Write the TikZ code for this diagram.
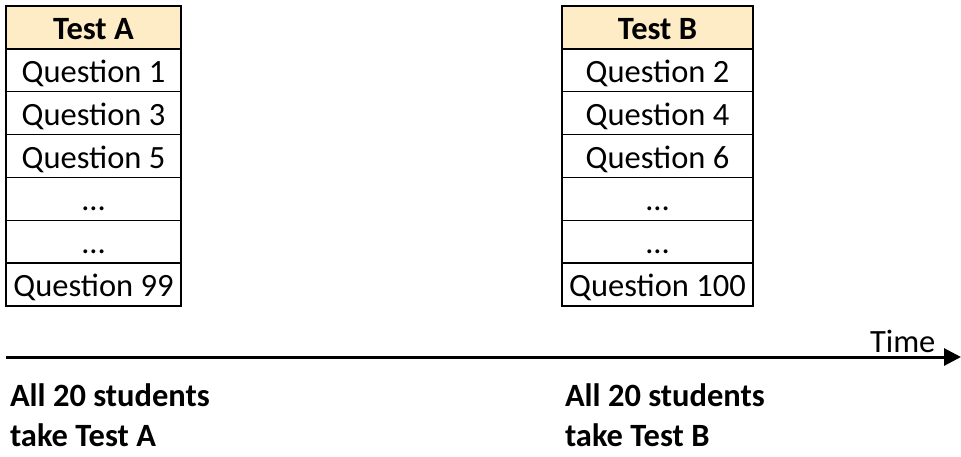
\documentclass[tikz,border=0pt]{standalone}
\usepackage{fontspec}
\setmainfont{Carlito}
\usetikzlibrary{arrows.meta}
\definecolor{headfill}{RGB}{253,236,197}
\tikzset{
  cell/.style={draw=black, line width=1.5pt, rectangle, inner sep=0pt, outer sep=0pt,
    minimum height=300/7*1pt, text height=24pt, text depth=0pt,
    font=\fontsize{32.5}{39}\selectfont},
  cellA/.style={cell, minimum width=175pt},
  cellB/.style={cell, minimum width=191pt},
  head/.style={fill=headfill, font=\fontsize{32.5}{39}\selectfont\bfseries},
  lbl/.style={inner sep=0pt, outer sep=0pt, anchor=base west, font=\fontsize{32.5}{39}\selectfont},
  blbl/.style={lbl, font=\fontsize{32.5}{39}\selectfont\bfseries},
}
\begin{document}
\begin{tikzpicture}[x=1pt,y=-1pt]
\useasboundingbox (0,0) rectangle (961,456);
\def\rh{42.857}
% Table A
\node[cellA,head] (a0) at (93.5,{6+0.5*\rh}) {Test A};
\node[cellA] (a1) at (93.5,{6+1.5*\rh}) {Question 1};
\node[cellA] (a2) at (93.5,{6+2.5*\rh}) {Question 3};
\node[cellA] (a3) at (93.5,{6+3.5*\rh}) {Question 5};
\node[cellA] (a4) at (93.5,{6+4.5*\rh}) {…};
\node[cellA] (a5) at (93.5,{6+5.5*\rh}) {…};
\node[cellA] (a6) at (93.5,{6+6.5*\rh}) {Question 99};
% Table B
\node[cellB,head] (b0) at (657.5,{6+0.5*\rh}) {Test B};
\node[cellB] (b1) at (657.5,{6+1.5*\rh}) {Question 2};
\node[cellB] (b2) at (657.5,{6+2.5*\rh}) {Question 4};
\node[cellB] (b3) at (657.5,{6+3.5*\rh}) {Question 6};
\node[cellB] (b4) at (657.5,{6+4.5*\rh}) {…};
\node[cellB] (b5) at (657.5,{6+5.5*\rh}) {…};
\node[cellB] (b6) at (657.5,{6+6.5*\rh}) {Question 100};
% Time axis
\coordinate (t0) at (6,357);
\coordinate (t1) at (961,357);
\draw[line width=3pt, -{Triangle[length=17pt,width=17pt]}] (t0) -- (t1);
\node[lbl] (time) at (870,352) {Time};
% Bottom labels
\node[blbl] (la1) at (10,406) {All 20 students};
\node[blbl] (la2) at (10,446) {take Test A};
\node[blbl] (lb1) at (565,406) {All 20 students};
\node[blbl] (lb2) at (565,446) {take Test B};
\end{tikzpicture}
\end{document}
